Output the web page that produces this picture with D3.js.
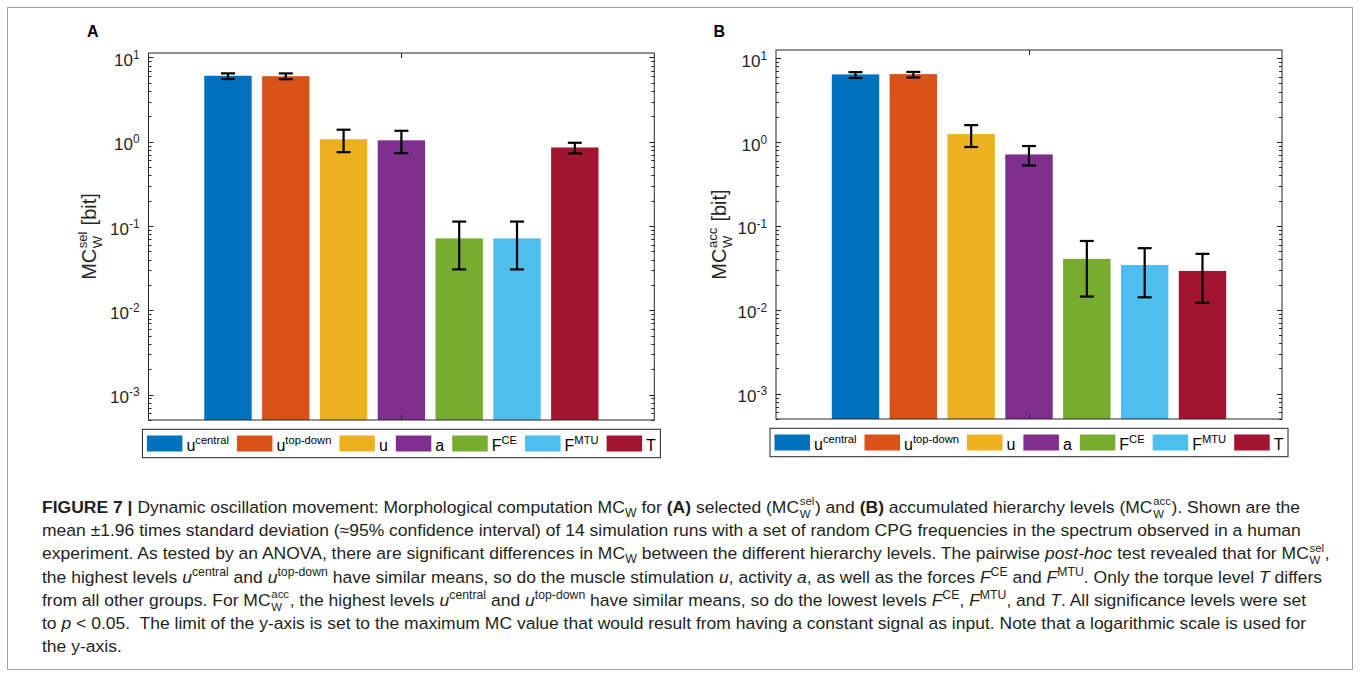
<!DOCTYPE html>
<html><head><meta charset="utf-8">
<script src="https://cdn.jsdelivr.net/npm/d3@7"></script>
<style>
body{margin:0;background:#fff}
text{white-space:pre}
</style>
</head><body>
<svg id="c" width="1360" height="677" xmlns="http://www.w3.org/2000/svg"></svg>
<script>
// ---------- data ----------
const categories = ["u central","u top-down","u","a","F CE","F MTU","T"];
const legendBase = ["u","u","u","a","F","F","T"];
const legendSup  = ["central","top-down","","","CE","MTU",""];
const colors = ["#0072BD","#D95319","#EDB120","#7E2F8E","#77AC30","#4DBEEE","#A2142F"];

// Panel A: selected hierarchy levels (MC_W^sel)
const selMean  = [6.07, 6.00, 1.07, 1.04, 0.0714, 0.0714, 0.856];
const selLower = [5.55, 5.52, 0.753, 0.733, 0.0306, 0.0306, 0.727];
const selUpper = [6.48, 6.47, 1.39, 1.35, 0.113, 0.113, 0.973];

// Panel B: accumulated hierarchy levels (MC_W^acc)
const accMean  = [6.40, 6.45, 1.245, 0.711, 0.0405, 0.0343, 0.0291];
const accLower = [5.80, 5.88, 0.872, 0.526, 0.0144, 0.0141, 0.0121];
const accUpper = [6.80, 6.85, 1.59, 0.896, 0.0662, 0.0543, 0.0465];

const yTickExponents = ["1","0","-1","-2","-3"];
const yLimA = [5e-4, 11.3];
const yLimB = [5e-4, 12.5];

// caption segments
const t=s=>({t:s}), B=s=>({t:s,b:1}), I=s=>({t:s,i:1}), SP=s=>({t:s,sup:1}), SB=s=>({t:s,sub:1}), SS=(a,b)=>({ss:[a,b]});
const captionLines = [
 [B("FIGURE 7 |"), t(" Dynamic oscillation movement: Morphological computation MC"), SB("W"), t(" for "), B("(A)"), t(" selected (MC"), SS("sel","W"), t(") and "), B("(B)"), t(" accumulated hierarchy levels (MC"), SS("acc","W"), t("). Shown are the")],
 [t("mean \u00b11.96 times standard deviation (\u224895% confidence interval) of 14 simulation runs with a set of random CPG frequencies in the spectrum observed in a human")],
 [t("experiment. As tested by an ANOVA, there are significant differences in MC"), SB("W"), t(" between the different hierarchy levels. The pairwise "), I("post-hoc"), t(" test revealed that for MC"), SS("sel","W"), t(",")],
 [t("the highest levels "), I("u"), SP("central"), t(" and "), I("u"), SP("top-down"), t(" have similar means, so do the muscle stimulation "), I("u"), t(", activity "), I("a"), t(", as well as the forces "), I("F"), SP("CE"), t(" and "), I("F"), SP("MTU"), t(". Only the torque level "), I("T"), t(" differs")],
 [t("from all other groups. For MC"), SS("acc","W"), t(", the highest levels "), I("u"), SP("central"), t(" and "), I("u"), SP("top-down"), t(" have similar means, so do the lowest levels "), I("F"), SP("CE"), t(", "), I("F"), SP("MTU"), t(", and "), I("T"), t(". All significance levels were set")],
 [t("to "), I("p"), t(" < 0.05.  The limit of the y-axis is set to the maximum MC value that would result from having a constant signal as input. Note that a logarithmic scale is used for")],
 [t("the y-axis.")]
];

// ---------- helpers ----------
const svg = d3.select("#c");
const FONT = "'Liberation Sans', Arial, Helvetica, sans-serif";

function rich(parent, segs, x, y, size, color) {
  let cx = x;
  const mk = (tx, yy, fs, s) => parent.append("text").attr("x", tx).attr("y", yy)
      .attr("xml:space","preserve")
      .style("font-family", FONT).style("font-size", fs + "px").style("fill", color)
      .style("font-weight", s && s.b ? "bold" : null).style("font-style", s && s.i ? "italic" : null);
  for (const s of segs) {
    if (s.ss) {
      // stacked super/subscript in one text element
      cx += 0.6;
      const el = parent.append("text").attr("xml:space","preserve")
        .style("font-family", FONT).style("font-size", (size * 0.65) + "px").style("fill", color);
      const a = el.append("tspan").attr("x", cx).attr("y", y - size * 0.45).text(s.ss[0]);
      const b = el.append("tspan").attr("x", cx).attr("y", y + size * 0.28).text(s.ss[1]);
      cx += Math.max(a.node().getComputedTextLength(), b.node().getComputedTextLength()) + 0.6;
    } else {
      const dy = s.sup ? -size * 0.40 : s.sub ? size * 0.22 : 0;
      const fs = (s.sup || s.sub) ? size * 0.7 : size;
      const el = mk(cx, y + dy, fs, s).text(s.t);
      cx += el.node().getComputedTextLength();
    }
  }
  return cx - x;
}

// ---------- frame ----------
svg.append("rect").attr("x", 7.5).attr("y", 7.5).attr("width", 1345).attr("height", 662)
  .attr("fill", "none").attr("stroke", "#a0a0a0").attr("stroke-width", 1);

// ---------- panel ----------
function panel(cfg) {
  const {left, right, top, bottom, means, lower, upper, ylim, letter, letterX, labelSup, labelX, legendTop} = cfg;
  const g = svg.append("g");
  const x = d3.scaleLinear().domain([4 - 4.375, 4 + 4.375]).range([left, right]);
  const y = d3.scaleLog().domain(ylim).range([bottom, top]);
  const bw = x(0.82) - x(0);

  // bars
  g.selectAll("rect.bar").data(means).join("rect").attr("class", "bar")
    .attr("x", (d, i) => x(i + 1) - bw / 2).attr("width", bw)
    .attr("y", d => y(d)).attr("height", d => bottom - y(d))
    .attr("fill", (d, i) => colors[i]);

  // error bars
  const cap = 7;
  means.forEach((m, i) => {
    const cx = x(i + 1);
    const eg = g.append("g").attr("stroke", "#000").attr("stroke-width", 2.2);
    eg.append("line").attr("x1", cx).attr("x2", cx).attr("y1", y(lower[i])).attr("y2", y(upper[i]));
    eg.append("line").attr("x1", cx - cap).attr("x2", cx + cap).attr("y1", y(lower[i])).attr("y2", y(lower[i]));
    eg.append("line").attr("x1", cx - cap).attr("x2", cx + cap).attr("y1", y(upper[i])).attr("y2", y(upper[i]));
  });

  // y ticks (major + minor) both sides
  const ax = g.append("g").attr("stroke", "#262626").attr("stroke-width", 1);
  const allTicks = [];
  for (let e = -4; e <= 1; e++) for (let k = 1; k <= 9; k++) {
    const v = k * Math.pow(10, e);
    if (v >= ylim[0] && v <= ylim[1]) allTicks.push({v, major: k === 1});
  }
  allTicks.forEach(tk => {
    const yy = Math.round(y(tk.v)) + 0.5, len = tk.major ? 5 : 3;
    ax.append("line").attr("x1", left).attr("x2", left + len).attr("y1", yy).attr("y2", yy);
    ax.append("line").attr("x1", right).attr("x2", right - len).attr("y1", yy).attr("y2", yy);
  });
  // x tick (single, at centre)
  const xt = Math.round(x(4)) + 0.5;
  ax.append("line").attr("x1", xt).attr("x2", xt).attr("y1", top).attr("y2", top + 5);
  ax.append("line").attr("x1", xt).attr("x2", xt).attr("y1", bottom).attr("y2", bottom - 5);
  // box
  ax.append("rect").attr("x", left).attr("y", top).attr("width", right - left).attr("height", bottom - top)
    .attr("fill", "none");

  // y tick labels
  yTickExponents.forEach(ex => {
    const v = Math.pow(10, +ex);
    const lg = g.append("g");
    const w = rich(lg, [t("10"), SP(ex)], 0, 0, 17, "#262626");
    lg.attr("transform", `translate(${left - 9 - w},${y(v) + 8.5})`);
  });

  // y label (rotated)
  const yl = g.append("g");
  const wl = rich(yl, [t("MC"), SS(labelSup, "W"), t(" [bit]")], 0, 0, 20, "#262626");
  yl.attr("transform", `translate(${labelX},${(top + bottom) / 2 + wl / 2}) rotate(-90)`);

  // panel letter
  g.append("text").attr("x", letterX).attr("y", 37).text(letter)
    .style("font-family", FONT).style("font-weight", "bold").style("font-size", "16px").style("fill", "#000");

  // legend
  const lg = g.append("g");
  const items = [];
  const sw = 35.5, sh = 16, gap = 4;
  legendBase.forEach((b, i) => {
    const ig = lg.append("g");
    ig.append("rect").attr("x", 0).attr("y", -sh / 2).attr("width", sw).attr("height", sh).attr("fill", colors[i]);
    const segs = legendSup[i] ? [t(b), SP(legendSup[i])] : [t(b)];
    const tw = rich(ig, segs, sw + gap, 7, 16, "#000");
    items.push({g: ig, w: sw + gap + tw});
  });
  const legW = 518, pad = 4.5;
  const sumW = d3.sum(items, d => d.w);
  const spacing = (legW - 2 * pad - sumW) / (items.length - 1);
  const legX = (left + right) / 2 - legW / 2;
  let cx = legX + pad;
  items.forEach(it => { it.g.attr("transform", `translate(${cx},${legendTop + 14.2})`); cx += it.w + spacing; });
  lg.insert("rect", ":first-child").attr("x", legX).attr("y", legendTop).attr("width", legW).attr("height", 28.4)
    .attr("fill", "#fff").attr("stroke", "#262626").attr("stroke-width", 1);
}

panel({left: 148.5, right: 654.3, top: 53, bottom: 420, means: selMean, lower: selLower, upper: selUpper,
  ylim: yLimA, letter: "A", letterX: 87, labelSup: "sel", labelX: 96, legendTop: 429.3});
panel({left: 776, right: 1282, top: 50, bottom: 419, means: accMean, lower: accLower, upper: accUpper,
  ylim: yLimB, letter: "B", letterX: 713.5, labelSup: "acc", labelX: 726, legendTop: 428.3});

// ---------- caption ----------
const capG = svg.append("g");
const lineGroups = captionLines.map((segs, i) => {
  const lg = capG.append("g");
  const w = rich(lg, segs, 0, 0, 17, "#231f20");
  return {g: lg, w, i};
});
const sx = 1280 / lineGroups[3].w;
lineGroups.forEach(L => L.g.attr("transform", `translate(42,${513 + L.i * 23.2}) scale(${sx},1)`));
</script>
</body></html>
